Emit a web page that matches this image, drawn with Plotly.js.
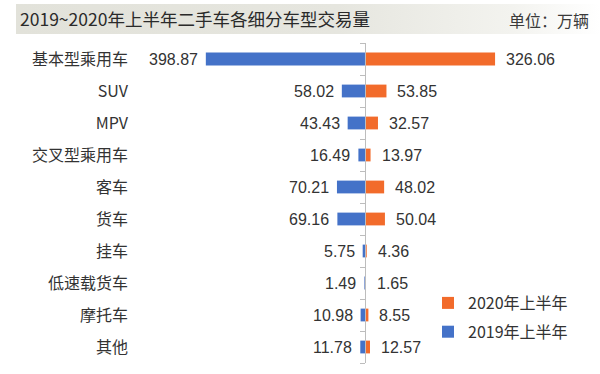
<!DOCTYPE html>
<html>
<head>
<meta charset="utf-8">
<script src="https://cdn.plot.ly/plotly-3.0.1.min.js"></script>
<style>
  html, body { margin: 0; padding: 0; background: #fff; }
  #wrap { position: relative; width: 600px; height: 374px; }
  #band { position: absolute; left: 16px; top: 4px; width: 584px; height: 30px;
          background: linear-gradient(to right, #e2e2da 0%, #e6e6df 55%, #f3f3ef 85%, #ffffff 100%); }
  #chart { position: absolute; left: 0; top: 0; width: 600px; height: 374px; }
</style>
</head>
<body>
<div id="wrap">
  <div id="band"></div>
  <div id="chart"></div>
</div>
<script>
const categories = ["基本型乘用车", "SUV", "MPV", "交叉型乘用车", "客车", "货车", "挂车", "低速载货车", "摩托车", "其他"];
const values2019 = [398.87, 58.02, 43.43, 16.49, 70.21, 69.16, 5.75, 1.49, 10.98, 11.78];
const values2020 = [326.06, 53.85, 32.57, 13.97, 48.02, 50.04, 4.36, 1.65, 8.55, 12.57];
const seriesNames = ["2019年上半年", "2020年上半年"];

const blue = "#4472c8";
const orange = "#f26b2b";
const textColor = "#333333";
const numFont = { family: "Liberation Sans, Arial, sans-serif", size: 16, color: textColor };

const traces = [
  {
    type: "bar", orientation: "h", name: seriesNames[0],
    y: categories, x: values2019.map(v => -v),
    marker: { color: blue }, width: 0.4,
    hoverinfo: "skip", legendgroup: "g2019", legendrank: 2
  },
  {
    type: "bar", orientation: "h", name: seriesNames[1],
    y: categories, x: values2020,
    marker: { color: orange }, width: 0.4,
    hoverinfo: "skip", legendgroup: "g2020", legendrank: 1
  },
  {
    // invisible trace on yaxis2 to draw the centre axis with ticks
    type: "scatter", mode: "markers", x: [0], y: [categories[0]],
    yaxis: "y2", marker: { opacity: 0 }, showlegend: false, hoverinfo: "skip"
  }
];

const margin = { l: 135, r: 8, t: 43, b: 11 };
const plotW = 600 - margin.l - margin.r;
const plotH = 374 - margin.t - margin.b;

const annotations = [];
categories.forEach((c, i) => {
  annotations.push({
    x: -values2019[i], y: c, xref: "x", yref: "y", text: values2019[i].toFixed(2),
    showarrow: false, xanchor: "right", xshift: -6, font: numFont
  });
  annotations.push({
    x: values2020[i], y: c, xref: "x", yref: "y", text: values2020[i].toFixed(2),
    showarrow: false, xanchor: "left", xshift: 9, font: numFont
  });
});
annotations.push({
  xref: "paper", yref: "paper", x: (591 - margin.l) / plotW, y: 1 + (margin.t - 20) / plotH,
  xanchor: "right", yanchor: "middle", text: "单位：万辆",
  showarrow: false, font: { family: "Noto Sans CJK SC", size: 16, color: "#3a3a3a" }
});

const xRange = [-576.4, 569];
const layout = {
  width: 600, height: 374,
  paper_bgcolor: "rgba(0,0,0,0)", plot_bgcolor: "rgba(0,0,0,0)",
  margin: margin,
  title: {
    text: "2019~2020年上半年二手车各细分车型交易量",
    x: 0, xref: "container", xanchor: "left", y: 1 - 20 / 374, yref: "container", yanchor: "middle",
    pad: { l: 20 },
    font: { family: "Noto Sans CJK SC", size: 17.5, color: "#2a2a2a" }
  },
  barmode: "relative",
  xaxis: {
    range: xRange, showgrid: false, zeroline: false, showticklabels: false,
    showline: false, ticks: "", fixedrange: true
  },
  yaxis: {
    type: "category", autorange: false, range: [9.5, -0.5],
    showgrid: false, zeroline: false, showline: false, ticks: "",
    ticklabelstandoff: 6,
    tickfont: { family: "Noto Sans CJK SC", size: 16, color: textColor }
  },
  yaxis2: {
    overlaying: "y", anchor: "free",
    position: (0 - xRange[0]) / (xRange[1] - xRange[0]),
    range: [9.5, -0.5], showgrid: false, zeroline: false, showticklabels: false,
    showline: true, linecolor: "#bdbdbd", linewidth: 1,
    ticks: "outside", ticklen: 5, tickcolor: "#bdbdbd",
    tickmode: "array", tickvals: [-0.5, 0.5, 1.5, 2.5, 3.5, 4.5, 5.5, 6.5, 7.5, 8.5, 9.5]
  },
  showlegend: true,
  legend: {
    x: (428 - margin.l) / plotW, y: 1 - (286 - margin.t) / plotH, xanchor: "left", yanchor: "top",
    traceorder: "grouped", tracegroupgap: 5,
    bgcolor: "rgba(0,0,0,0)",
    font: { family: "Noto Sans CJK SC", size: 16, color: textColor },
    itemwidth: 30
  },
  annotations: annotations
};

Plotly.newPlot("chart", traces, layout, { displayModeBar: false, staticPlot: true });
</script>
</body>
</html>
